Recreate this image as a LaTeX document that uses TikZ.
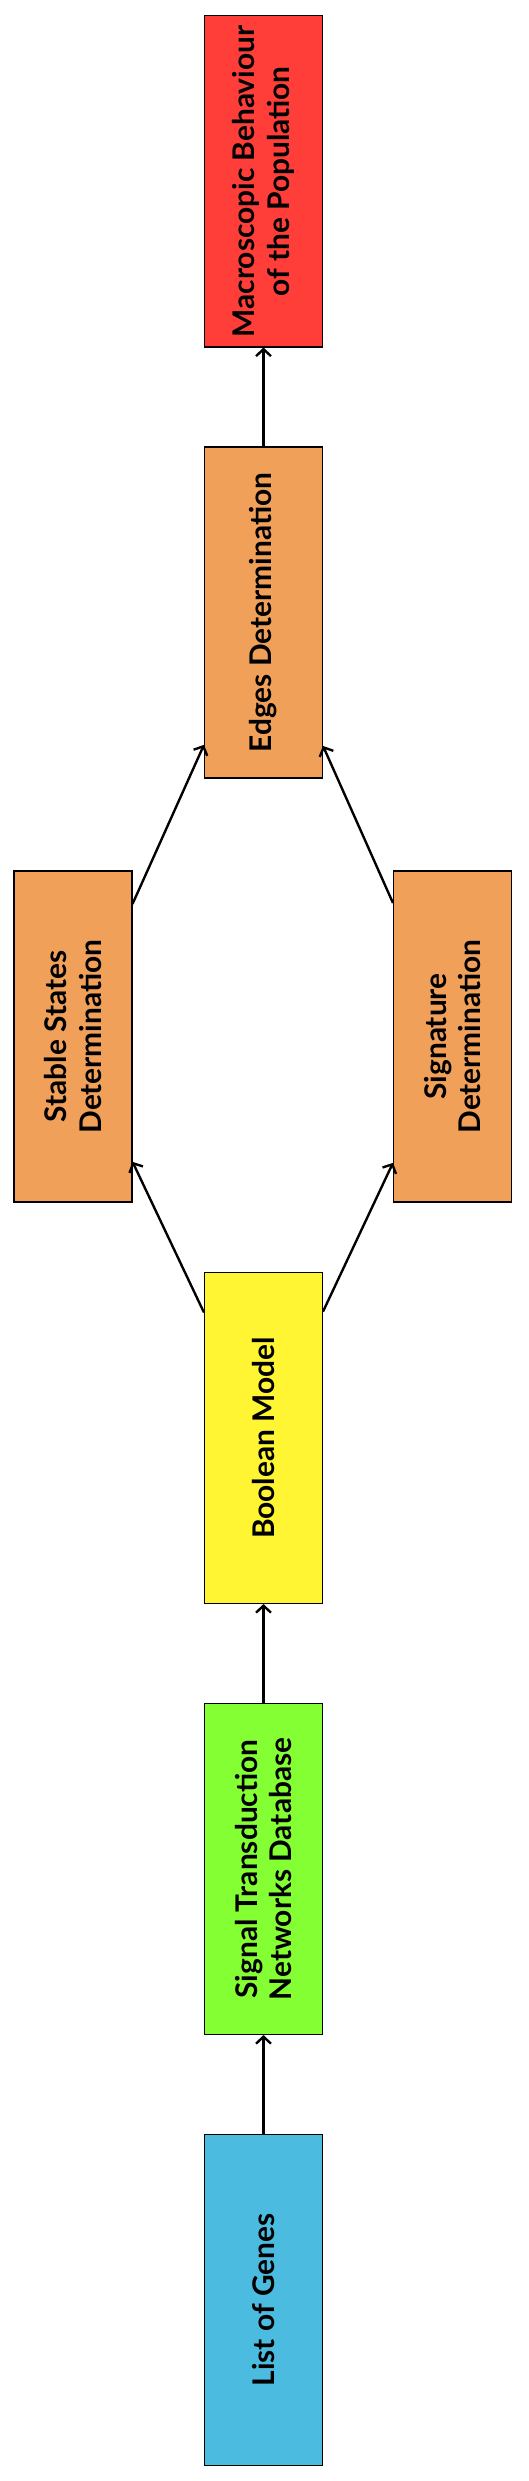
\documentclass[tikz,border=0pt]{standalone}
\usepackage{fontspec}
\setsansfont{Lato}
\usepackage{tikz}
\usetikzlibrary{positioning, arrows.meta}

\definecolor{genesblue}{RGB}{75,187,224}
\definecolor{dbgreen}{RGB}{132,255,51}
\definecolor{modelyellow}{RGB}{255,245,51}
\definecolor{detorange}{RGB}{241,160,90}
\definecolor{macrored}{RGB}{255,62,58}

\begin{document}
\begin{tikzpicture}[node distance=8.62cm, on grid]
                \tikzset{stage/.style={draw, line width=0.6pt, rotate=90, minimum width=6.62cm, minimum height=2.36cm, align=center, font=\sffamily\bfseries\fontsize{17}{19.5}\selectfont}}
                \useasboundingbox (-5.27,-3.62) rectangle (5.29,46.0);

                % INPUT
                \node[stage, fill=genesblue] (genes) {List of Genes};
                \node[stage, fill=dbgreen] (stdb) [above=of genes] {Signal Transduction\\Networks Database};
                \node[stage, fill=modelyellow] (boolean) [above=of stdb] {Boolean Model};

                % DETERMINATION
                \node[stage, fill=detorange] (stable) [above left=8.03cm and 3.81cm of boolean] {Stable States\\Determination};
                \node[stage, fill=detorange] (signature) [above right=8.03cm and 3.78cm of boolean] {Signature\\Determination};
                \node[stage, fill=detorange] (edges) [above=16.51cm of boolean] {Edges Determination};

                % OUTPUT
                \node[stage, fill=macrored] (macro) [above=of edges] {Macroscopic Behaviour\\of the Population};

                % TRANSITIONS
                \path[-{Straight Barb[length=4pt, width=8.5pt]}, line width=1.35pt]
                    (genes) edge (stdb)
                    (stdb) edge (boolean)
                    (boolean) edge (stable)
                    (boolean) edge (signature)
                    (stable) edge (edges)
                    (signature) edge (edges)
                    (edges) edge (macro);

            \end{tikzpicture}
\end{document}
